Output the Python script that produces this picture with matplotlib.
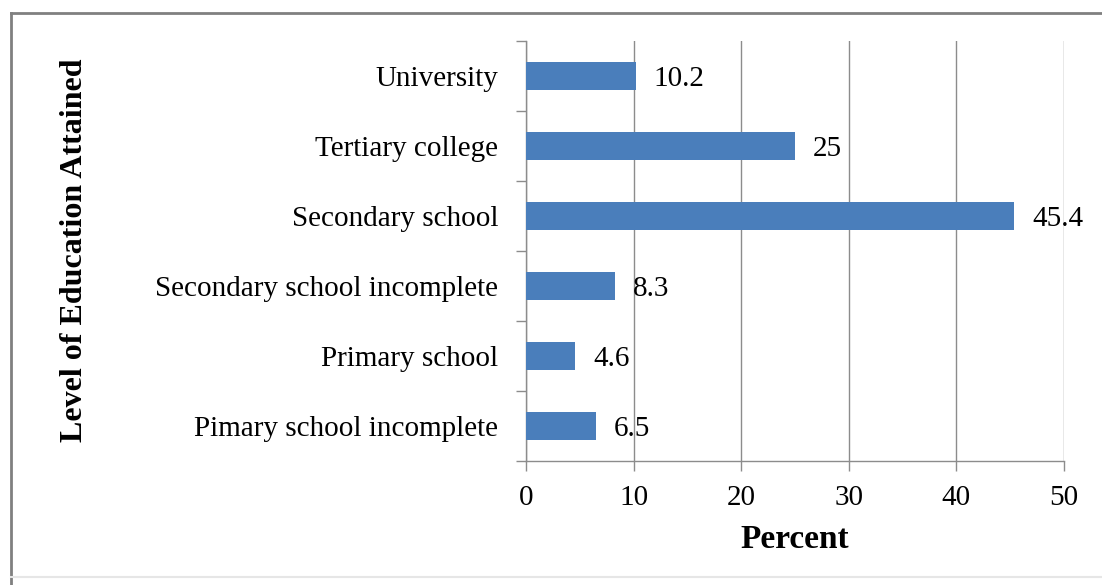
"""Horizontal bar chart of education level attained."""

import matplotlib.pyplot as plt
from matplotlib.lines import Line2D

plt.rcParams["font.family"] = ["Liberation Serif", "DejaVu Serif"]

# Categories listed bottom to top
levels = [
    "Pimary school incomplete",
    "Primary school",
    "Secondary school incomplete",
    "Secondary school",
    "Tertiary college",
    "University",
]
percent = [6.5, 4.6, 8.3, 45.4, 25, 10.2]
value_labels = ["6.5", "4.6", "8.3", "45.4", "25", "10.2"]
x_ticks = [0, 10, 20, 30, 40, 50]

BAR_COLOR = "#4a7ebb"
GRID_COLOR = "#8c8c8c"
LABEL_SIZE = 21

fig = plt.figure(figsize=(11.02, 5.85), dpi=100)
ax = fig.add_axes([0.4773, 0.2120, 0.4882, 0.7179])

pos = list(range(len(levels)))
ax.barh(pos, percent, height=0.4, color=BAR_COLOR, zorder=3)

for y, v, lab in zip(pos, percent, value_labels):
    ax.annotate(lab, (v, y), xytext=(13, -2), textcoords="offset points",
                va="center", ha="left", fontsize=LABEL_SIZE, zorder=4)

ax.set_xlim(0, 50)
ax.set_ylim(-0.5, len(levels) - 0.5)
ax.set_xticks(x_ticks)
ax.set_xticklabels([str(t) for t in x_ticks], fontsize=LABEL_SIZE)

# category labels centred on bars, tick marks on category boundaries
ax.set_yticks(pos)
ax.set_yticklabels(levels, fontsize=LABEL_SIZE)
ax.tick_params(axis="y", length=0, pad=20)
ax.set_yticks([p - 0.5 for p in pos] + [len(levels) - 0.5], minor=True)
ax.tick_params(axis="y", which="minor", length=7, color=GRID_COLOR, width=1)
ax.tick_params(axis="x", length=7, color=GRID_COLOR, width=1, pad=10)

ax.xaxis.grid(True, color=GRID_COLOR, linewidth=1, zorder=0)
for side in ("top", "right"):
    ax.spines[side].set_visible(False)
for side in ("left", "bottom"):
    ax.spines[side].set_color(GRID_COLOR)
    ax.spines[side].set_linewidth(1)

ax.set_xlabel("Percent", fontsize=24, fontweight="bold", labelpad=10)
fig.text(0.068, 0.573, "Level of Education Attained", rotation=90,
         fontsize=23, fontweight="bold", ha="center", va="center")

# outer frame around the chart area
fig.add_artist(Line2D([11 / 1102, 1.0], [1 - 13 / 585, 1 - 13 / 585],
                      color="#808080", linewidth=2, transform=fig.transFigure))
fig.add_artist(Line2D([11 / 1102, 11 / 1102], [1 - 13 / 585, 0.0],
                      color="#808080", linewidth=2, transform=fig.transFigure))
fig.add_artist(Line2D([11 / 1102, 1.0], [1 - 577 / 585, 1 - 577 / 585],
                      color="#e6e6e6", linewidth=1.5, transform=fig.transFigure))

fig.savefig("out.png", dpi=100)
